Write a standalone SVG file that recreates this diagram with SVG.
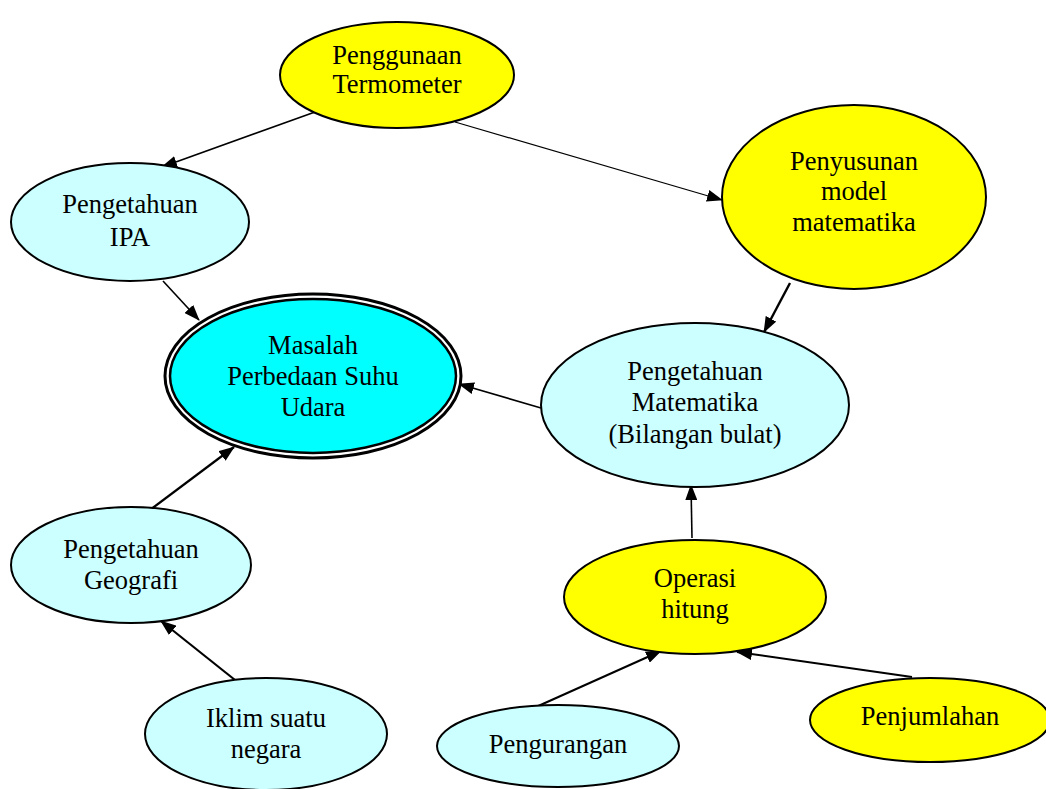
<svg xmlns="http://www.w3.org/2000/svg" width="1046" height="789" viewBox="0 0 1046 789">
<style>
.n{stroke:#000;stroke-width:2}
.y{fill:#FFFF00}
.c{fill:#CCFFFF}
.t{font-family:"Liberation Serif","Times New Roman",serif;font-size:26.5px;text-anchor:middle;fill:#000}
.e{stroke:#000;stroke-width:1.6;fill:none;marker-end:url(#a)}
</style>
<defs>
<marker id="a" markerUnits="userSpaceOnUse" markerWidth="16" markerHeight="12" refX="15" refY="6" orient="auto" viewBox="0 0 16 12">
<path d="M0,0 L16,6 L0,12 Z" fill="#000"/>
</marker>
</defs>
<rect width="1046" height="789" fill="#fff"/>
<g id="connectors">
<line class="e" x1="315" y1="112" x2="162" y2="167"/>
<line class="e" x1="455" y1="122" x2="722" y2="200" style="stroke-width:1.2"/>
<line class="e" x1="163" y1="281" x2="199" y2="320"/>
<line class="e" x1="790" y1="283" x2="764" y2="332" style="stroke-width:2.4"/>
<line class="e" x1="541" y1="408" x2="459" y2="384"/>
<line class="e" x1="150" y1="510" x2="234" y2="447" style="stroke-width:2.2"/>
<line class="e" x1="235" y1="680" x2="161" y2="621" style="stroke-width:2.2"/>
<line class="e" x1="692" y1="538" x2="691" y2="485"/>
<line class="e" x1="536" y1="707" x2="661" y2="651" style="stroke-width:2"/>
<line class="e" x1="912" y1="677" x2="737" y2="652" style="stroke-width:2"/>
</g>
<g id="termometer">
<ellipse class="n y" cx="397" cy="75" rx="117" ry="53"/>
<text class="t" x="397" y="64">Penggunaan</text>
<text class="t" x="397" y="93">Termometer</text>
</g>
<g id="ipa">
<ellipse class="n c" cx="130" cy="222" rx="119" ry="59"/>
<text class="t" x="130" y="213">Pengetahuan</text>
<text class="t" x="130" y="246">IPA</text>
</g>
<g id="penyusunan">
<ellipse class="n y" cx="854" cy="197" rx="132" ry="92"/>
<text class="t" x="854" y="170">Penyusunan</text>
<text class="t" x="854" y="200">model</text>
<text class="t" x="854" y="231">matematika</text>
</g>
<g id="masalah">
<ellipse cx="313" cy="376" rx="148" ry="82" fill="#fff" stroke="#000" stroke-width="3"/>
<ellipse cx="313" cy="376" rx="143" ry="77" fill="#00FFFF" stroke="#000" stroke-width="2.5"/>
<text class="t" x="313" y="354">Masalah</text>
<text class="t" x="313" y="385">Perbedaan Suhu</text>
<text class="t" x="313" y="416">Udara</text>
</g>
<g id="matematika">
<ellipse class="n c" cx="695" cy="405" rx="154" ry="82"/>
<text class="t" x="695" y="380">Pengetahuan</text>
<text class="t" x="695" y="411">Matematika</text>
<text class="t" x="695" y="443">(Bilangan bulat)</text>
</g>
<g id="geografi">
<ellipse class="n c" cx="131" cy="565" rx="120" ry="58"/>
<text class="t" x="131" y="558">Pengetahuan</text>
<text class="t" x="131" y="589">Geografi</text>
</g>
<g id="operasi">
<ellipse class="n y" cx="695" cy="597" rx="131" ry="57"/>
<text class="t" x="695" y="587">Operasi</text>
<text class="t" x="695" y="618">hitung</text>
</g>
<g id="iklim">
<ellipse class="n c" cx="266" cy="734" rx="121" ry="56"/>
<text class="t" x="266" y="727">Iklim suatu</text>
<text class="t" x="266" y="758">negara</text>
</g>
<g id="pengurangan">
<ellipse class="n c" cx="558" cy="746" rx="121" ry="41"/>
<text class="t" x="558" y="753">Pengurangan</text>
</g>
<g id="penjumlahan">
<ellipse class="n y" cx="930" cy="720" rx="120" ry="42"/>
<text class="t" x="930" y="725">Penjumlahan</text>
</g>
</svg>
